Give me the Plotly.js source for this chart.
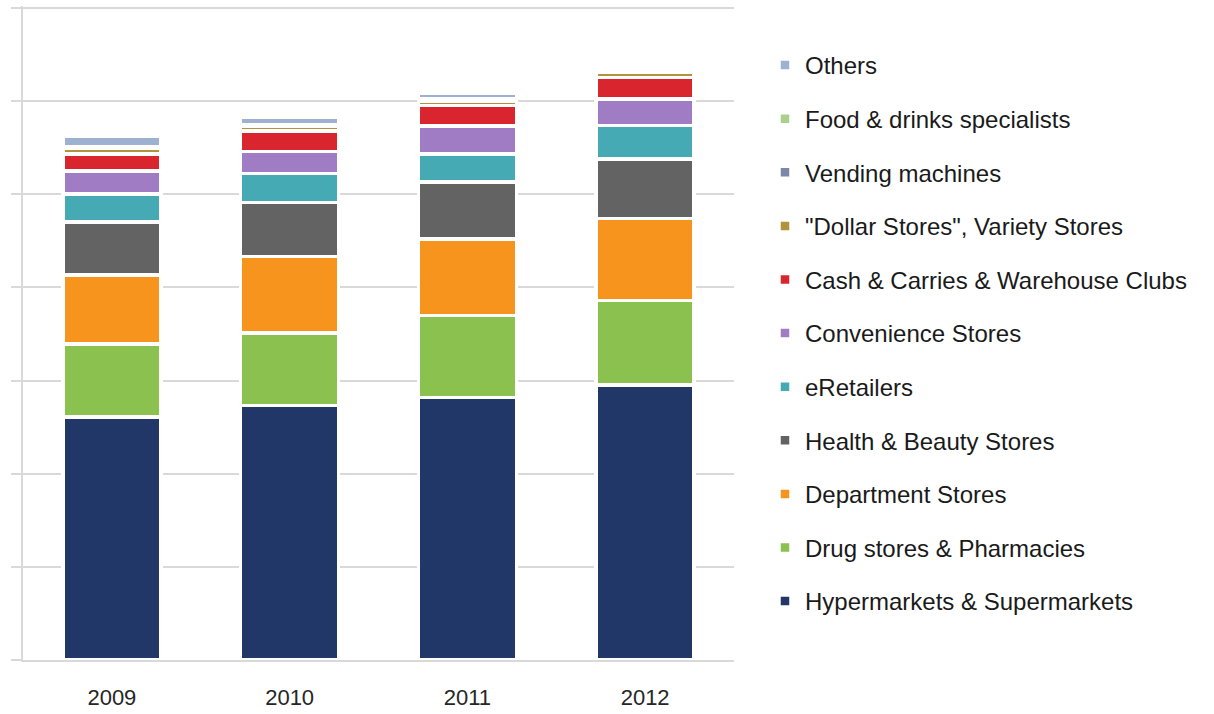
<!DOCTYPE html>
<html>
<head>
<meta charset="utf-8">
<script src="https://cdn.plot.ly/plotly-3.0.1.min.js"></script>
<style>html,body{margin:0;padding:0;background:#fff;}#chart{width:1214px;height:714px;}</style>
</head>
<body>
<div id="chart"></div>
<script>
const years = ['2009', '2010', '2011', '2012'];

const hypermarkets = [2.61, 2.73, 2.82, 2.95];
const drugstores = [0.78, 0.78, 0.88, 0.91];
const department = [0.74, 0.82, 0.82, 0.88];
const healthBeauty = [0.57, 0.58, 0.61, 0.64];
const eRetailers = [0.30, 0.31, 0.30, 0.36];
const convenience = [0.25, 0.24, 0.30, 0.28];
const cashCarries = [0.18, 0.22, 0.22, 0.23];
const dollarStores = [0.06, 0.05, 0.05, 0.055];
const vending = [0.01, 0.01, 0.01, 0.005];
const foodDrinks = [0.01, 0.01, 0.01, 0.005];
const others = [0.11, 0.08, 0.06, 0.01];

const seriesNames = [
  'Hypermarkets & Supermarkets',
  'Drug stores & Pharmacies',
  'Department Stores',
  'Health & Beauty Stores',
  'eRetailers',
  'Convenience Stores',
  'Cash & Carries & Warehouse Clubs',
  '"Dollar Stores", Variety Stores',
  'Vending machines',
  'Food & drinks specialists',
  'Others'
];
const seriesValues = [hypermarkets, drugstores, department, healthBeauty, eRetailers,
  convenience, cashCarries, dollarStores, vending, foodDrinks, others];
const seriesColors = ['#203767', '#8bc14f', '#f7941e', '#636363', '#46aab4',
  '#a07cc4', '#d9262e', '#b3923c', '#7d88a8', '#a9d18e', '#9fb1d1'];

const traces = seriesNames.map((name, i) => ({
  type: 'bar',
  name: name,
  x: years,
  y: seriesValues[i],
  legendgroup: 'g' + i,
  legendrank: (seriesNames.length - i) * 10,
  marker: { color: seriesColors[i], line: { color: '#ffffff', width: 3.5 } },
  hoverinfo: 'x+y+name'
}));

const layout = {
  width: 1214,
  height: 714,
  paper_bgcolor: '#ffffff',
  plot_bgcolor: '#ffffff',
  barmode: 'stack',
  bargap: 0.45,
  margin: { l: 23, r: 480, t: 6, b: 54 },
  font: { family: 'Liberation Sans, Arial, sans-serif', color: '#222222' },
  xaxis: {
    type: 'category',
    showgrid: false,
    showline: true,
    linecolor: '#d9d9d9',
    linewidth: 2,
    ticks: '',
    ticklabelstandoff: 17,
    tickfont: { size: 22, color: '#262626' }
  },
  yaxis: {
    range: [0, 7.02],
    tickvals: [0, 1, 2, 3, 4, 5, 6, 7],
    showticklabels: false,
    showgrid: true,
    gridcolor: '#d9d9d9',
    gridwidth: 2,
    zeroline: false,
    showline: true,
    linecolor: '#d9d9d9',
    linewidth: 2,
    ticks: 'outside',
    ticklen: 10,
    tickwidth: 2,
    tickcolor: '#d9d9d9'
  },
  showlegend: true,
  legend: {
    x: 1.0436,
    xanchor: 'left',
    y: 0.9434,
    yanchor: 'top',
    traceorder: 'grouped',
    tracegroupgap: 19.4,
    font: { size: 24, color: '#1a1a1a', family: 'Liberation Sans, Arial, sans-serif' },
    bgcolor: 'rgba(0,0,0,0)'
  }
};

Plotly.newPlot('chart', traces, layout, { displayModeBar: false, staticPlot: true });
</script>
</body>
</html>
